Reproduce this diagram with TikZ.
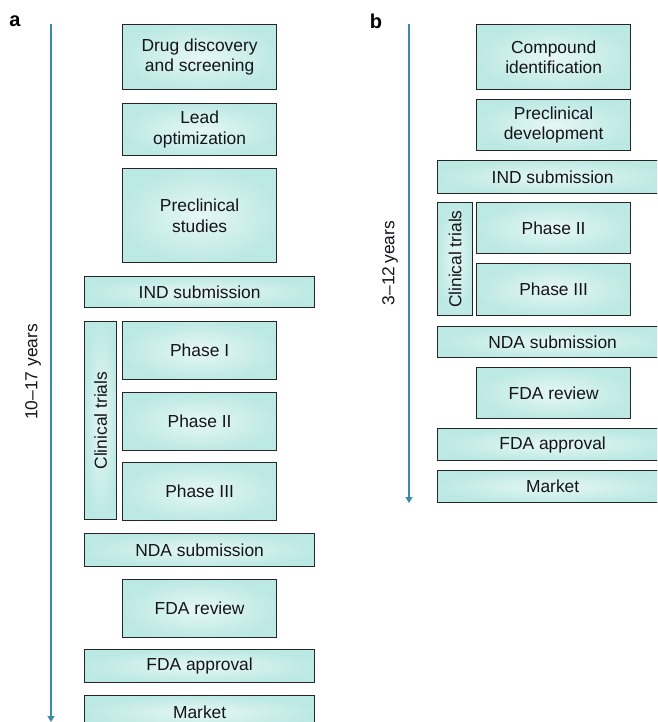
\documentclass[tikz,border=0pt]{standalone}
\usepackage{fontspec}
\setmainfont{Liberation Sans}
\usetikzlibrary{arrows.meta}
\definecolor{boxout}{HTML}{BDE9E4}
\definecolor{boxin}{HTML}{E6F7F5}
\definecolor{boxline}{HTML}{262626}
\definecolor{arrowcol}{HTML}{3A8AA8}
\definecolor{txt}{HTML}{14141E}
\tikzset{
  stagebox/.style={draw=boxline, line width=1.25pt, shading=radial, inner color=boxin, outer color=boxout,
    anchor=north west, inner sep=0pt, align=center, text=txt,
    font=\fontsize{17.4}{20.5}\selectfont},
  timeline/.style={draw=arrowcol, line width=1.1pt, -{Triangle[width=7pt,length=6pt]}},
  yearlabel/.style={rotate=90, text=txt, font=\fontsize{17.4}{20}\selectfont},
  panellabel/.style={font=\fontsize{20}{22}\selectfont\bfseries, text=black},
}
\newcommand{\stg}[6]{% name, x1, y1, x2, y2, text
  \node[stagebox, minimum width={(#4-#2)*1pt}, minimum height={(#5-#3)*1pt}] (#1) at (#2,#3) {#6};}
\begin{document}
\begin{tikzpicture}[x=1pt,y=-1pt]
\clip (0,0) rectangle (657,722);
\fill[white] (0,0) rectangle (657,722);
% panel a
\node[panellabel] (la) at (15,21) {a};
\coordinate (ta) at (51,24);
\coordinate (ba) at (51,722);
\draw[timeline] (ta) -- (ba);
\node[yearlabel] (ya) at (33,372) {10–17 years};
\stg{dd}{122}{24}{276}{89}{Drug discovery\\and screening}
\stg{lo}{122}{103}{276}{155}{Lead\\optimization}
\stg{ps}{122}{168}{276}{262}{Preclinical\\studies}
\stg{inda}{84}{276}{314}{307}{IND submission}
\stg{cta}{84}{321}{116}{519}{}
\node[yearlabel] (ctat) at (cta.center) {Clinical trials};
\stg{p1a}{122}{321}{276}{379}{Phase I}
\stg{p2a}{122}{392}{276}{450}{Phase II}
\stg{p3a}{122}{462}{276}{520}{Phase III}
\stg{ndaa}{84}{533}{314}{566}{NDA submission}
\stg{fra}{122}{579}{276}{637}{FDA review}
\stg{faa}{84}{649}{314}{682}{FDA approval}
\stg{mka}{84}{695}{314}{729}{Market}
% panel b
\node[panellabel] (lb) at (376,21) {b};
\coordinate (tb) at (409,24);
\coordinate (bb) at (409,503);
\draw[timeline] (tb) -- (bb);
\node[yearlabel] (yb) at (390,263) {3–12\,years};
\stg{ci}{476}{24}{630}{89}{Compound\\identification}
\stg{pd}{476}{99}{630}{150}{Preclinical\\development}
\stg{indb}{437}{160}{667}{193}{IND submission}
\stg{ctb}{437}{202}{472}{315}{}
\node[yearlabel] (ctbt) at (ctb.center) {Clinical trials};
\stg{p2b}{476}{202}{630}{253}{Phase II}
\stg{p3b}{476}{263}{630}{315}{Phase III}
\stg{ndab}{437}{326}{667}{357}{NDA submission}
\stg{frb}{476}{367}{630}{418}{FDA review}
\stg{fab}{437}{428}{667}{460}{FDA approval}
\stg{mkb}{437}{470}{667}{502}{Market}
\end{tikzpicture}
\end{document}
